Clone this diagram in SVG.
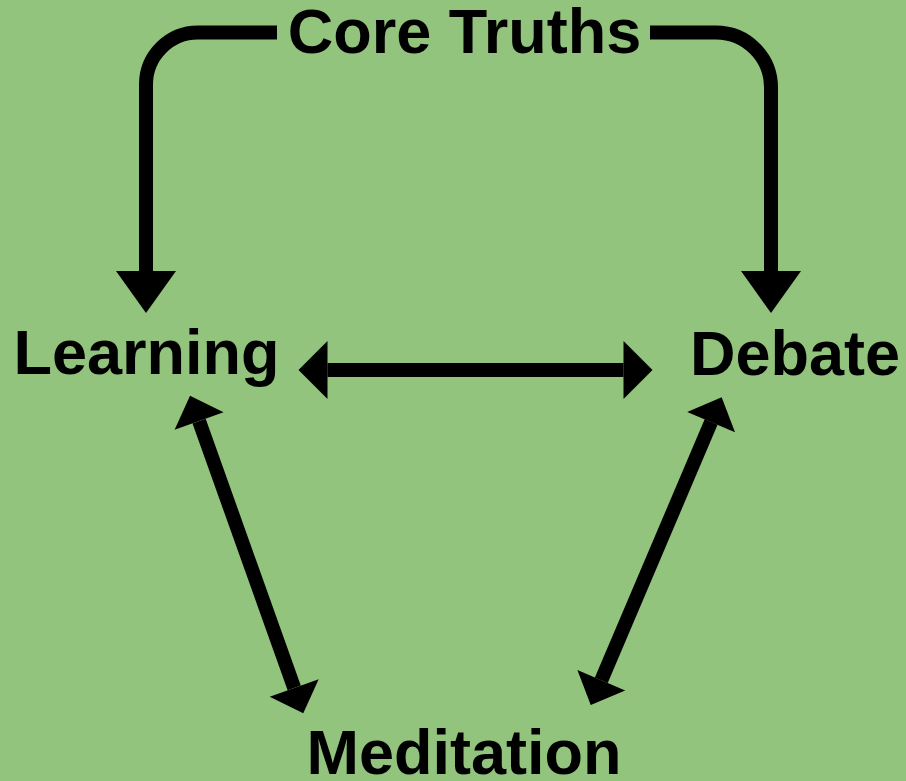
<svg xmlns="http://www.w3.org/2000/svg" width="906" height="781" viewBox="0 0 906 781">
  <style>
    .label { font-family: "Liberation Sans", Arial, sans-serif; font-weight: bold; font-size: 63px; fill: #000; }
    .edge { fill: none; stroke: #000; stroke-width: 14; }
  </style>
  <defs>
    <!-- head for the straight two-way links -->
    <marker id="head-h" markerUnits="userSpaceOnUse" markerWidth="30" markerHeight="58" refX="0" refY="29" orient="auto-start-reverse" overflow="visible">
      <path d="M0,0 L29,29 L0,58 Z" fill="#000"/>
    </marker>
    <marker id="head-d" markerUnits="userSpaceOnUse" markerWidth="28" markerHeight="52" refX="0" refY="26" orient="auto-start-reverse" overflow="visible">
      <path d="M0,0 L27,26 L0,52 Z" fill="#000"/>
    </marker>
    <!-- head for the two bent links from the top -->
    <marker id="head-v" markerUnits="userSpaceOnUse" markerWidth="42" markerHeight="60" refX="0" refY="30" orient="auto" overflow="visible">
      <path d="M0,0 L42,30 L0,60 Z" fill="#000"/>
    </marker>
  </defs>

  <rect width="906" height="781" fill="#93c47d"/>

  <g id="connectors">
    <path class="edge" d="M277,32.5 H198 A52,52 0 0 0 146,84.5 V271" marker-end="url(#head-v)"/>
    <path class="edge" d="M650,32.5 H716 A55,55 0 0 1 771,87.5 V271" marker-end="url(#head-v)"/>
    <path class="edge" d="M327.5,370 H623.5" marker-start="url(#head-h)" marker-end="url(#head-h)"/>
    <path class="edge" d="M199.1,421.1 L294.2,687.9" marker-start="url(#head-d)" marker-end="url(#head-d)"/>
    <path class="edge" d="M711.1,422.1 L601.3,680.2" marker-start="url(#head-d)" marker-end="url(#head-d)"/>
  </g>

  <g id="core-truths">
    <text class="label" x="464.5" y="52.5" text-anchor="middle">Core Truths</text>
  </g>
  <g id="learning">
    <text class="label" x="13.5" y="373.5">Learning</text>
  </g>
  <g id="debate">
    <text class="label" x="690" y="375">Debate</text>
  </g>
  <g id="meditation">
    <text class="label" x="464" y="774" text-anchor="middle">Meditation</text>
  </g>
</svg>
